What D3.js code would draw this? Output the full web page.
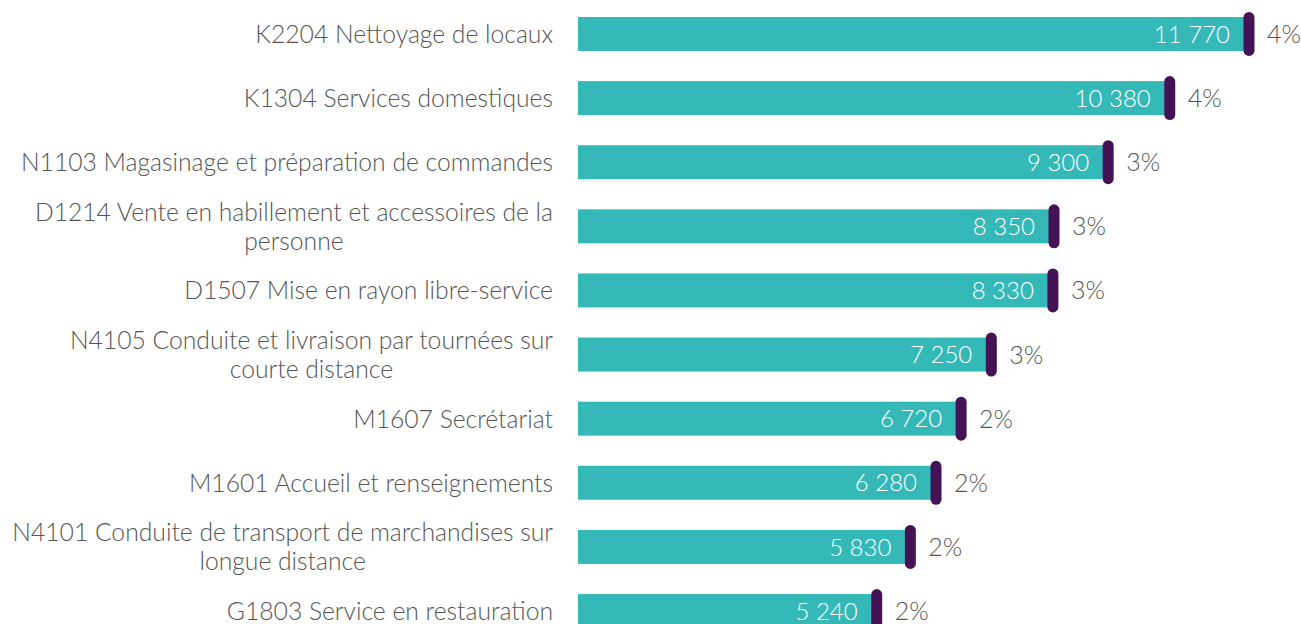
<!DOCTYPE html>
<html>
<head>
<meta charset="utf-8">
<script src="https://cdn.jsdelivr.net/npm/d3@7"></script>
<style>
  html, body { margin: 0; padding: 0; background: #fff; }
  svg { display: block; }
  text { font-family: "Lato", "Open Sans", sans-serif; font-weight: 300; }
</style>
</head>
<body>
<svg id="chart" width="1301" height="624"></svg>
<script>
const categories = [
  ["K2204 Nettoyage de locaux"],
  ["K1304 Services domestiques"],
  ["N1103 Magasinage et préparation de commandes"],
  ["D1214 Vente en habillement et accessoires de la", "personne"],
  ["D1507 Mise en rayon libre-service"],
  ["N4105 Conduite et livraison par tournées sur", "courte distance"],
  ["M1607 Secrétariat"],
  ["M1601 Accueil et renseignements"],
  ["N4101 Conduite de transport de marchandises sur", "longue distance"],
  ["G1803 Service en restauration"]
];
const values = [11770, 10380, 9300, 8350, 8330, 7250, 6720, 6280, 5830, 5240];
const valueLabels = ["11 770", "10 380", "9 300", "8 350", "8 330", "7 250", "6 720", "6 280", "5 830", "5 240"];
const shares = ["4%", "4%", "3%", "3%", "3%", "3%", "2%", "2%", "2%", "2%"];

const svg = d3.select("#chart");
const idx = d3.range(values.length);

const x = d3.scaleLinear().domain([0, 12000]).range([578, 1262.1]);
const y = d3.scaleBand().domain(idx).range([0, 645]).paddingInner(0.47).paddingOuter(0.265);

const teal = "#35B9B8";
const purple = "#461256";
const grey = "#555555";

const g = svg.append("g");

g.selectAll("rect.bar").data(idx).join("rect")
  .attr("class", "bar")
  .attr("x", x(0))
  .attr("y", i => y(i))
  .attr("width", i => x(values[i]) - x(0))
  .attr("height", y.bandwidth())
  .attr("fill", teal);

const mw = 11, mh = 44;
g.selectAll("rect.mark").data(idx).join("rect")
  .attr("class", "mark")
  .attr("x", i => x(values[i]) - mw / 2)
  .attr("y", i => y(i) + y.bandwidth() / 2 - mh / 2)
  .attr("width", mw)
  .attr("height", mh)
  .attr("rx", mw / 2)
  .attr("fill", purple);

g.selectAll("text.val").data(idx).join("text")
  .attr("class", "val")
  .attr("x", i => x(values[i]) - 19)
  .attr("y", i => y(i) + y.bandwidth() / 2)
  .attr("dy", "0.36em")
  .attr("text-anchor", "end")
  .attr("font-size", 24)
  .attr("fill", "#ffffff")
  .text(i => valueLabels[i]);

g.selectAll("text.share").data(idx).join("text")
  .attr("class", "share")
  .attr("x", i => x(values[i]) + 18)
  .attr("y", i => y(i) + y.bandwidth() / 2)
  .attr("dy", "0.36em")
  .attr("text-anchor", "start")
  .attr("font-size", 25)
  .attr("fill", grey)
  .text(i => shares[i]);

const lineH = 29;
const labelRight = 553;
idx.forEach(i => {
  const lines = categories[i];
  const cy = y(i) + y.bandwidth() / 2;
  const t0 = g.append("text")
    .attr("x", labelRight)
    .attr("y", cy - (lines.length - 1) * lineH / 2)
    .attr("dy", "0.36em")
    .attr("text-anchor", "end")
    .attr("font-size", 24.7)
    .attr("fill", grey)
    .text(lines[0]);
  if (lines.length > 1) {
    const w = t0.node().getComputedTextLength();
    const center = labelRight - w / 2;
    for (let k = 1; k < lines.length; k++) {
      g.append("text")
        .attr("x", center)
        .attr("y", cy - (lines.length - 1) * lineH / 2 + k * lineH)
        .attr("dy", "0.36em")
        .attr("text-anchor", "middle")
        .attr("font-size", 24.7)
        .attr("fill", grey)
        .text(lines[k]);
    }
  }
});
</script>
</body>
</html>
